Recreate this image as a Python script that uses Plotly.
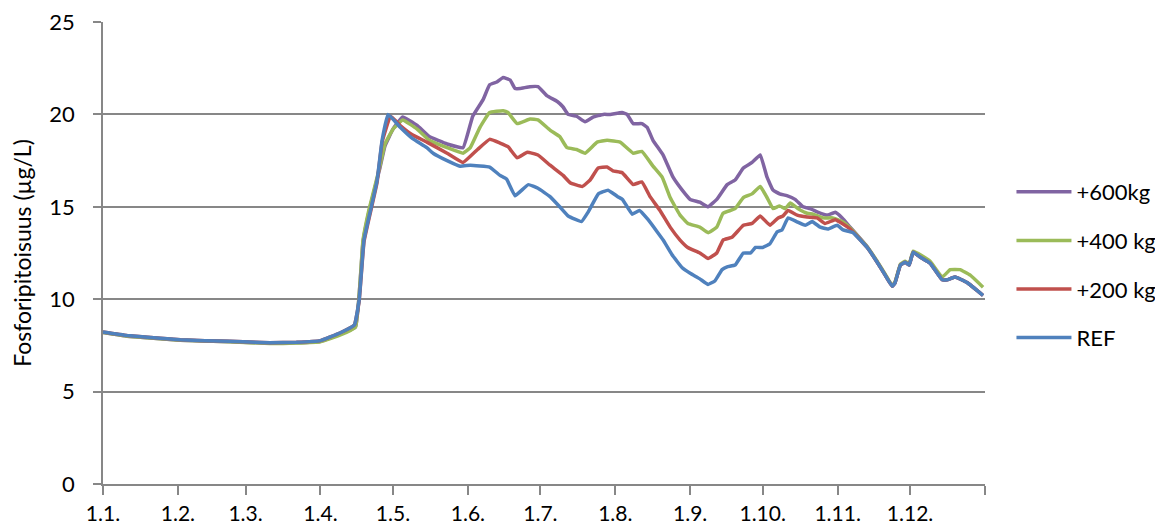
import pandas as pd
import plotly.graph_objects as go

# ---- data (day offset from 1 Jan, value µg/L) ----
ref_days = [0, 10, 32, 52.5, 69, 80, 90, 98, 104, 106, 108, 110.5, 113.4, 115.5, 118, 123, 128, 134, 136.6,
            142.4, 147.8, 152, 160, 164.3, 167, 170.5, 176, 180, 185, 189, 192.5, 198, 200.7, 205, 209, 213,
            215, 219, 222, 225.6, 229.3, 231.8, 235.5, 239.7, 243, 247, 250.4, 253.3, 256.2, 258.3, 261.6, 265,
            268, 270, 273, 276, 279, 281, 283.5, 287, 290.6, 293.5, 296.8, 300, 303.8, 306.3, 310.4, 316.2,
            320.4, 323.7, 326.6, 327.8, 330, 332, 333.6, 335.3, 338, 342.3, 347.3, 349.3, 352.6, 357.6, 364.2]
ref_vals = [8.22, 8.03, 7.8, 7.72, 7.65, 7.67, 7.76, 8.17, 8.6, 9.96, 13.2, 14.7, 16.4, 18.6, 20.0, 19.3, 18.7,
            18.2, 17.9, 17.5, 17.2, 17.25, 17.15, 16.7, 16.5, 15.6, 16.2, 16.0, 15.55, 15.0, 14.5, 14.2, 14.7,
            15.7, 15.9, 15.55, 15.4, 14.6, 14.8, 14.3, 13.65, 13.2, 12.4, 11.7, 11.4, 11.1, 10.8, 11.0, 11.6,
            11.75, 11.85, 12.5, 12.5, 12.8, 12.8, 13.0, 13.65, 13.75, 14.4, 14.2, 14.0, 14.2, 13.9, 13.8, 14.0,
            13.75, 13.6, 12.8, 12.0, 11.3, 10.7, 10.9, 11.85, 12.0, 11.85, 12.55, 12.3, 11.95, 11.05, 11.05,
            11.2, 10.9, 10.2]

kg200_days = [0, 10, 32, 52.5, 69, 80, 90, 98, 104, 106, 108, 110.5, 113.4, 115.5, 119, 123, 128, 134, 142.4,
              149, 155, 160, 164.3, 167.6, 171.4, 175.6, 180, 185, 190.4, 193.3, 198.3, 201.6, 204.9, 208.6,
              211, 214.8, 219.4, 223, 226.4, 230.5, 234.7, 238.8, 242, 247, 250.4, 254, 256.6, 260.3, 265,
              268.6, 272, 276, 279.4, 281.4, 283.5, 287.3, 291.4, 295.5, 298.8, 303, 305.9, 309.2, 316.2,
              320.4, 323.7, 326.6, 327.8, 330, 332, 333.6, 335.3, 338, 342.3, 347.3, 349.3, 352.6, 357.6, 364.2]
kg200_vals = [8.22, 8.03, 7.8, 7.72, 7.65, 7.67, 7.76, 8.17, 8.6, 9.9, 13.1, 14.6, 16.3, 18.5, 19.9, 19.4, 18.9,
              18.5, 17.9, 17.4, 18.1, 18.65, 18.45, 18.25, 17.65, 17.95, 17.8, 17.25, 16.7, 16.3, 16.1, 16.45,
              17.1, 17.15, 16.95, 16.85, 16.2, 16.35, 15.55, 14.8, 13.9, 13.2, 12.8, 12.5, 12.2, 12.5, 13.2,
              13.35, 14.0, 14.1, 14.5, 14.0, 14.4, 14.5, 14.8, 14.55, 14.45, 14.4, 14.1, 14.3, 14.1, 13.8, 12.8,
              12.0, 11.3, 10.7, 10.9, 11.85, 12.0, 11.85, 12.55, 12.3, 11.95, 11.05, 11.05, 11.2, 10.9, 10.2]

kg400_days = [0, 10, 32, 52.5, 69, 80, 90, 98, 104.5, 107.6, 110, 114.6, 116.7, 120, 124, 130, 135, 142.4, 149,
              152, 156, 160, 165.6, 167.6, 171.4, 176.7, 180, 185, 189, 192, 196, 199.5, 204.5, 208.6, 214,
              219.4, 223, 227.6, 231.4, 234.7, 238.8, 242, 247, 250.4, 254, 256.6, 261.6, 265, 268.6, 272,
              274.8, 277.3, 280, 282.3, 284.4, 287.7, 291.4, 293.9, 298, 302, 305.9, 309.2, 316.2, 320.4, 323.7,
              326.6, 327.8, 330, 332, 333.6, 335.3, 342.3, 347.3, 350.6, 354.7, 358.9, 364.2]
kg400_vals = [8.2, 8.0, 7.78, 7.7, 7.6, 7.63, 7.7, 8.05, 8.5, 13.2, 14.8, 17.2, 18.4, 19.2, 19.7, 19.2, 18.6,
              18.2, 17.9, 18.2, 19.3, 20.1, 20.2, 20.1, 19.5, 19.75, 19.7, 19.15, 18.8, 18.2, 18.1, 17.9, 18.5,
              18.6, 18.5, 17.9, 18.0, 17.2, 16.6, 15.5, 14.55, 14.1, 13.9, 13.6, 13.9, 14.65, 14.9, 15.5, 15.7,
              16.1, 15.5, 14.9, 15.05, 14.9, 15.2, 14.9, 14.65, 14.6, 14.4, 14.4, 14.2, 13.85, 12.85, 12.05,
              11.35, 10.75, 10.95, 11.9, 12.05, 11.9, 12.6, 12.05, 11.2, 11.6, 11.6, 11.3, 10.65]

kg600_days = [0, 10, 32, 52.5, 69, 80, 90, 98, 104.5, 107.6, 110, 114.6, 116.7, 120, 124, 130, 135, 142.4, 149,
              153, 157.3, 160, 163, 165.6, 168.5, 170.5, 172.6, 176.7, 180, 183.8, 188, 190.4, 192.5, 196,
              199.5, 202.8, 207, 209.9, 214.8, 216.9, 219.4, 223, 225.2, 227.6, 231.8, 235.9, 239.7, 243, 247,
              250.4, 254, 258.3, 261.6, 265, 268.6, 272, 274.8, 277.3, 280, 283, 286.4, 289.7, 292.6, 296,
              299.7, 303, 305.9, 309.2, 316.2, 320.4, 323.7, 326.6, 327.8, 330, 332, 333.6, 335.3, 338, 342.3,
              347.3, 349.3, 352.6, 357.6, 364.2]
kg600_vals = [8.2, 8.0, 7.78, 7.7, 7.62, 7.64, 7.72, 8.1, 8.5, 13.1, 14.7, 17.1, 18.3, 19.2, 19.86, 19.4, 18.8,
              18.4, 18.2, 19.9, 20.8, 21.6, 21.75, 22.0, 21.86, 21.4, 21.4, 21.5, 21.5, 21.0, 20.7, 20.4, 20.0,
              19.9, 19.6, 19.85, 20.0, 20.0, 20.1, 20.0, 19.5, 19.5, 19.3, 18.6, 17.8, 16.6, 15.9, 15.4, 15.25,
              15.0, 15.4, 16.2, 16.45, 17.1, 17.4, 17.8, 16.6, 15.9, 15.7, 15.6, 15.4, 15.0, 14.9, 14.7, 14.55,
              14.7, 14.4, 13.9, 12.85, 12.0, 11.3, 10.7, 10.9, 11.85, 12.0, 11.85, 12.55, 12.3, 11.95, 11.05,
              11.05, 11.2, 10.9, 10.2]

series_names = ["+600kg", "+400 kg", "+200 kg", "REF"]
series_colors = ["#8064A2", "#9BBB59", "#C0504D", "#4F81BD"]

tick_dates = ["2019-01-01", "2019-02-01", "2019-03-01", "2019-04-01", "2019-05-01", "2019-06-01",
              "2019-07-01", "2019-08-01", "2019-09-01", "2019-10-01", "2019-11-01", "2019-12-01", "2020-01-01"]
tick_labels = ["1.1.", "1.2.", "1.3.", "1.4.", "1.5.", "1.6.", "1.7.", "1.8.", "1.9.", "1.10.", "1.11.", "1.12.", ""]

y_ticks = [0, 5, 10, 15, 20, 25]
y_title = "Fosforipitoisuus (µg/L)"

# ---- figure ----
start = pd.Timestamp("2019-01-01")
def to_dates(days):
    return [start + pd.Timedelta(hours=d * 24) for d in days]

all_days = [kg600_days, kg400_days, kg200_days, ref_days]
all_vals = [kg600_vals, kg400_vals, kg200_vals, ref_vals]

FONT = "Lato, Calibri, sans-serif"
GRID = "#878787"

fig = go.Figure()
for name, color, d, v in zip(series_names, series_colors, all_days, all_vals):
    fig.add_trace(go.Scatter(x=to_dates(d), y=v, mode="lines", name=name, legendgroup=name,
                             line=dict(color=color, width=3.5, shape="spline", smoothing=0.3)))

fig.update_layout(
    width=1163, height=529,
    margin=dict(l=95, r=186, t=14, b=53, autoexpand=False),
    plot_bgcolor="white", paper_bgcolor="white",
    font=dict(family=FONT, size=22, color="black"),
    showlegend=True,
    legend=dict(x=1.03, y=0.474, xanchor="left", yanchor="middle", tracegroupgap=17,
                font=dict(family=FONT, size=22), itemwidth=55, bgcolor="rgba(0,0,0,0)"),
    xaxis=dict(type="date", range=["2019-01-01", "2020-01-01"], tickmode="array",
               tickvals=tick_dates, ticktext=tick_labels, ticks="outside", ticklen=9,
               tickcolor=GRID, tickwidth=1.5, showline=True, linecolor=GRID, linewidth=1.5,
               showgrid=False, zeroline=False, ticklabelstandoff=1, automargin=False,
               ticklabeloverflow="allow", tickfont=dict(family=FONT, size=21)),
    yaxis=dict(range=[0, 25.0001], tickmode="array", tickvals=y_ticks, ticks="outside", ticklen=8,
               tickcolor=GRID, tickwidth=1.5, showline=True, linecolor=GRID, linewidth=1.5,
               showgrid=True, gridcolor=GRID, gridwidth=1.5, zeroline=False,
               ticklabelstandoff=14, automargin=False, ticklabeloverflow="allow",
               title=dict(text=y_title, font=dict(family=FONT, size=23), standoff=18)),
)

fig.write_html("out.html")
